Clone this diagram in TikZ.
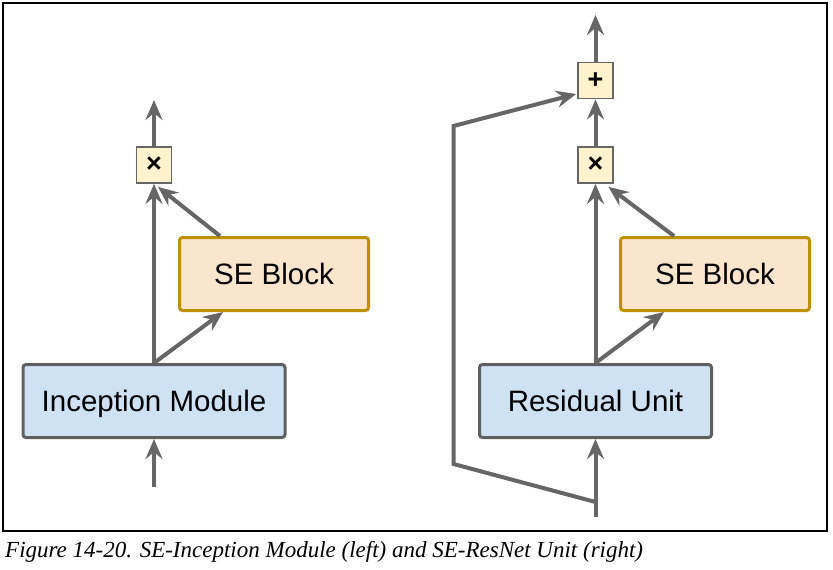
\documentclass[tikz,border=0pt]{standalone}
\usepackage{fontspec}
\setmainfont{Liberation Sans}
\newfontfamily\capfont{Liberation Serif}
\usetikzlibrary{arrows.meta,calc}

\definecolor{linegray}{HTML}{666666}
\definecolor{boxgray}{HTML}{5F5F5F}
\definecolor{bluefill}{HTML}{CFE2F3}
\definecolor{orangefill}{HTML}{FCE5CD}
\definecolor{orangeedge}{HTML}{BF9000}
\definecolor{yellowfill}{HTML}{FFF2CC}

\tikzset{
  labelfont/.style={font=\fontsize{29.5}{33}\selectfont, text height=21pt, text depth=0pt},
  unitbox/.style={draw=boxgray, fill=bluefill, line width=3pt, rounded corners=3pt,
    minimum height=73pt, inner sep=0pt, labelfont},
  seblock/.style={draw=orangeedge, fill=orangefill, line width=3pt, rounded corners=3pt,
    minimum width=189pt, minimum height=73pt, inner sep=0pt, labelfont},
  opbox/.style={draw=linegray, fill=yellowfill, line width=1.8pt,
    minimum width=35pt, minimum height=36pt, inner sep=0pt, font=\bfseries\fontsize{27}{28}\selectfont},
  flow/.style={draw=linegray, line width=4pt,
    -{Stealth[length=20pt, width=17pt, inset=7pt]}},
}

\begin{document}
\begin{tikzpicture}[x=1pt, y=-1pt]
  \useasboundingbox (0,0) rectangle (833,570);
  \draw[line width=1.3pt] (3,3) rectangle (827,531);

  % SE-Inception module
  \node[unitbox, minimum width=262pt] (inc) at (154,401) {Inception Module};
  \node[seblock] (se1) at (274,274) {SE Block};
  \node[opbox] (mul1) at (154,165) {×};
  \coordinate (in1) at (154,487);
  \coordinate (out1) at (154,100);

  \draw[flow] (in1) -- (inc.south);
  \draw[flow] (inc.north) -- (mul1.south);
  \draw[flow] (inc.north) -- ($(se1.south west)+(45,0)$);
  \draw[flow] ($(se1.north west)+(42,0)$) -- ($(mul1.south)+(4,3)$);
  \draw[flow] (mul1.north) -- (out1);

  % SE-ResNet unit
  \node[unitbox, minimum width=232pt] (res) at (595.5,401) {Residual Unit};
  \node[seblock] (se2) at (715,274) {SE Block};
  \node[opbox] (mul2) at (595.5,165) {×};
  \node[opbox] (add) at (595.5,80.5) {+};
  \coordinate (in2) at (595.5,517);
  \coordinate (out2) at (595.5,15);
  \coordinate (sk0) at (595.5,502);
  \coordinate (sk1) at (453.5,464);
  \coordinate (sk2) at (453.5,126);

  \draw[flow] (in2) -- (res.south);
  \draw[flow] (res.north) -- (mul2.south);
  \draw[flow] (res.north) -- ($(se2.south west)+(45,0)$);
  \draw[flow] ($(se2.north west)+(55,0)$) -- ($(mul2.south)+(13,3)$);
  \draw[flow] (mul2.north) -- (add.south);
  \draw[flow] (add.north) -- (out2);
  \draw[flow] (sk0) -- (sk1) -- (sk2) -- ($(add.west)+(-1,13.5)$);

  % caption
  \node[anchor=base west, inner sep=0pt, font=\capfont\itshape\fontsize{23}{27}\selectfont] (cap) at (5,557)
    {Figure 14-20. SE-Inception Module (left) and SE-ResNet Unit (right)};
\end{tikzpicture}
\end{document}
